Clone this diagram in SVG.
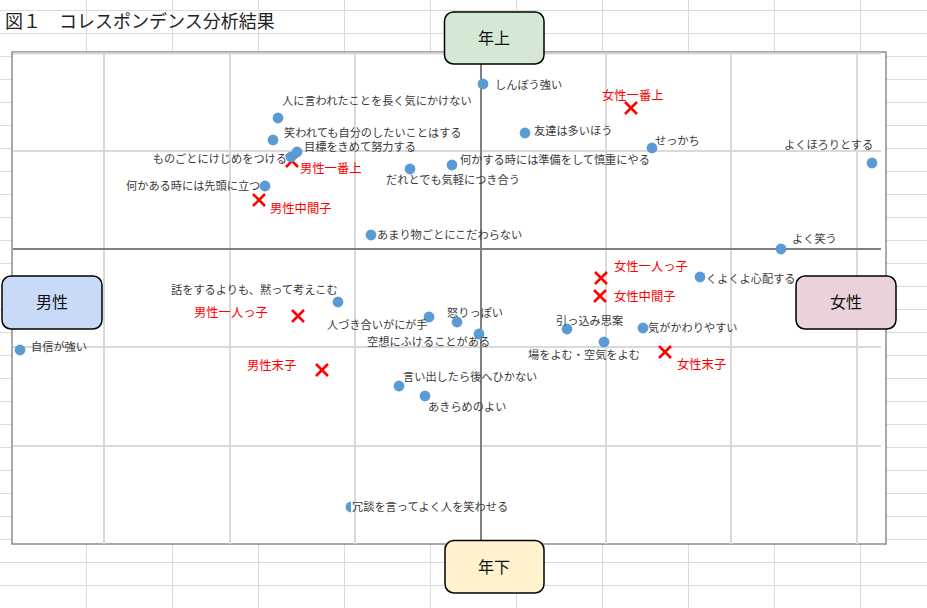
<svg xmlns="http://www.w3.org/2000/svg" width="927" height="608" viewBox="0 0 927 608">
<style>
.sheet{stroke:#dadada;stroke-width:1;fill:none}
.grid{stroke:#d9d9d9;stroke-width:2;fill:none}
.axis{stroke:#808080;stroke-width:2;fill:none}
.pt{fill:#5b9bd5}
.mk{stroke:#ff0000;stroke-width:2.6;fill:none}
.lb{font-family:"Noto Sans CJK JP","Noto Sans",sans-serif;font-size:11.2px;fill:#3a3a3a}
.rl{font-family:"Noto Sans CJK JP","Noto Sans",sans-serif;font-size:12.3px;fill:#ff0000}
.box{stroke:#000;stroke-width:1.5}
.bt{font-family:"Noto Sans CJK JP","Noto Sans",sans-serif;font-size:16px;fill:#111;text-anchor:middle}
.end{text-anchor:end}
</style>
<defs>
<path id="x" d="M-6,-6L6,6M6,-6L-6,6"/>
</defs>
<rect width="927" height="608" fill="#ffffff"/>
<g id="sheet" class="sheet">
<path d="M86.5,0V608M172.5,0V608M258.5,0V608M344.5,0V608M430.5,0V608M516.5,0V608M602.5,0V608M688.5,0V608M774.5,0V608M860.5,0V608"/>
<path d="M0,10.5H927M0,33.5H927M0,56.5H927M0,79.5H927M0,102.5H927M0,125.5H927M0,148.5H927M0,171.5H927M0,194.5H927M0,217.5H927M0,240.5H927M0,263.5H927M0,286.5H927M0,309.5H927M0,332.5H927M0,355.5H927M0,378.5H927M0,401.5H927M0,424.5H927M0,447.5H927M0,470.5H927M0,493.5H927M0,516.5H927M0,539.5H927M0,562.5H927M0,585.5H927"/>
</g>
<text x="5" y="28" font-family="'Noto Sans CJK JP','Noto Sans',sans-serif" font-size="18" fill="#222">図１　コレスポンデンス分析結果</text>
<g id="chart">
<rect x="12" y="52" width="874" height="492" fill="#ffffff" stroke="#8c8c8c" stroke-width="1.5"/>
<g class="grid">
<path d="M104,53V544M230,53V544M355,53V544M606,53V544M731,53V544M857,53V544"/>
<path d="M13,53.5H881M13,151H881M13,347H881M13,446H881"/>
</g>
</g>
<g id="connectors" class="axis">
<path d="M481,53V541"/>
<path d="M13,249H881"/>
</g>
<g id="markers" class="mk">
<use href="#x" x="292" y="161"/>
<use href="#x" x="259" y="200"/>
<use href="#x" x="631" y="108"/>
<use href="#x" x="601" y="278"/>
<use href="#x" x="600" y="296"/>
<use href="#x" x="665" y="352"/>
<use href="#x" x="298" y="316"/>
<use href="#x" x="322" y="370"/>
</g>
<g id="points" class="pt">
<circle cx="483" cy="84" r="5.4"/>
<circle cx="278" cy="118" r="5.4"/>
<circle cx="273" cy="140" r="5.4"/>
<circle cx="297" cy="152" r="5.4"/>
<circle cx="291" cy="157" r="5.4"/>
<circle cx="265" cy="186" r="5.4"/>
<circle cx="410" cy="169" r="5.4"/>
<circle cx="452" cy="165" r="5.4"/>
<circle cx="371" cy="235" r="5.4"/>
<circle cx="525" cy="133" r="5.4"/>
<circle cx="652" cy="148" r="5.4"/>
<circle cx="872" cy="163" r="5.4"/>
<circle cx="781" cy="249" r="5.4"/>
<circle cx="700" cy="277" r="5.4"/>
<circle cx="643" cy="328" r="5.4"/>
<circle cx="567" cy="329" r="5.4"/>
<circle cx="604" cy="342" r="5.4"/>
<circle cx="457" cy="322" r="5.4"/>
<circle cx="429" cy="317" r="5.4"/>
<circle cx="479" cy="334" r="5.4"/>
<circle cx="338" cy="302" r="5.4"/>
<circle cx="20" cy="350" r="5.4"/>
<circle cx="399" cy="386" r="5.4"/>
<circle cx="425" cy="396" r="5.4"/>
<path d="M351,501.6A5.4,5.4 0 0 0 351,512.4Z"/>
</g>
<g id="labels" class="lb">
<text x="495" y="89">しんぼう強い</text>
<text x="282" y="105">人に言われたことを長く気にかけない</text>
<text x="284" y="137">笑われても自分のしたいことはする</text>
<text x="304" y="151">目標をきめて努力する</text>
<text x="287" y="163" class="end">ものごとにけじめをつける</text>
<text x="126" y="190">何かある時には先頭に立つ</text>
<text x="386" y="184">だれとでも気軽につき合う</text>
<text x="460" y="164">何かする時には準備をして慎重にやる</text>
<text x="377" y="239">あまり物ごとにこだわらない</text>
<text x="534" y="135">友達は多いほう</text>
<text x="655" y="145">せっかち</text>
<text x="784" y="149">よくほろりとする</text>
<text x="792" y="243">よく笑う</text>
<text x="706" y="283">くよくよ心配する</text>
<text x="648" y="332">気がかわりやすい</text>
<text x="556" y="325">引っ込み思案</text>
<text x="528" y="359">場をよむ・空気をよむ</text>
<text x="447" y="317">怒りっぽい</text>
<text x="327" y="329">人づき合いがにが手</text>
<text x="367" y="346">空想にふけることがある</text>
<text x="171" y="294">話をするよりも、黙って考えこむ</text>
<text x="31" y="351">自信が強い</text>
<text x="403" y="381">言い出したら後へひかない</text>
<text x="428" y="411">あきらめのよい</text>
<text x="352" y="511">冗談を言ってよく人を笑わせる</text>
</g>
<g id="group-labels" class="rl">
<text x="300" y="172.5">男性一番上</text>
<text x="270" y="212.5">男性中間子</text>
<text x="602" y="99.5">女性一番上</text>
<text x="614" y="270.5">女性一人っ子</text>
<text x="614" y="300.5">女性中間子</text>
<text x="677" y="368.5">女性末子</text>
<text x="194" y="316.5">男性一人っ子</text>
<text x="247" y="369.5">男性末子</text>
</g>
<g id="node-older">
<rect class="box" x="444.5" y="12" width="99.5" height="52" rx="9" fill="#d5e8d4"/>
<text class="bt" x="494" y="44">年上</text>
</g>
<g id="node-younger">
<rect class="box" x="445" y="540.5" width="99" height="52.5" rx="9" fill="#fff2cc"/>
<text class="bt" x="494" y="572.5">年下</text>
</g>
<g id="node-male">
<rect class="box" x="2" y="276" width="100" height="53" rx="9" fill="#c9daf8"/>
<text class="bt" x="52" y="308">男性</text>
</g>
<g id="node-female">
<rect class="box" x="796" y="276" width="100" height="53" rx="9" fill="#ead1dc"/>
<text class="bt" x="846" y="308">女性</text>
</g>
</svg>
